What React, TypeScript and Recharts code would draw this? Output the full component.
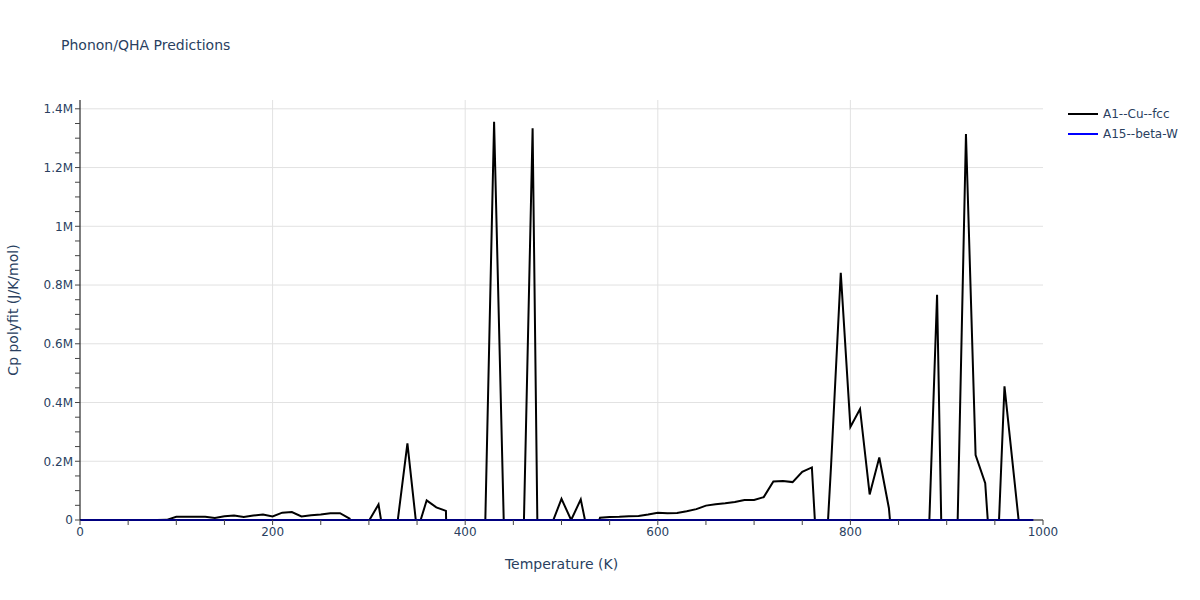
import React from "react";
import { LineChart, Line, XAxis, YAxis, CartesianGrid } from "recharts";

// temperatures (K)
const temps = [
  0, 10, 20, 30, 40, 50, 60, 70, 80, 90,
  100, 110, 120, 130, 140, 150, 160, 170, 180, 190,
  200, 210, 220, 230, 240, 250, 260, 270, 280, 290,
  300, 310, 320, 330, 340, 350, 360, 370, 380, 390,
  400, 410, 420, 430, 440, 450, 460, 470, 480, 490,
  500, 510, 520, 530, 540, 550, 560, 570, 580, 590,
  600, 610, 620, 630, 640, 650, 660, 670, 680, 690,
  700, 710, 720, 730, 740, 750, 760, 770, 780, 790,
  800, 810, 820, 830, 840, 850, 860, 870, 880, 890,
  900, 910, 920, 930, 940, 950, 960, 970, 980, 990,
];

// Cp polyfit, A1--Cu--fcc (J/K/mol); negative values fall below the axis range
const cuFcc = [
  0, 0, 0, 0, 0, 0, 0, 0, 0, 500,
  11000, 11000, 11000, 11000, 7000, 13000, 15000, 10000, 15000, 19000,
  12000, 25000, 27000, 12000, 16000, 19000, 23000, 23000, 5000, -1500000,
  -3000, 53000, -150000, 0, 261000, -40000, 67000, 43000, 31000, -1500000,
  -1200000, -900000, -134000, 1356000, 0, -1500000, -148000, 1334000, -1388000, -13000,
  72000, 0, 70000, -90000, 8000, 10000, 11000, 13000, 14000, 19000,
  25000, 23000, 24000, 30000, 37000, 49000, 54000, 57000, 61000, 68000,
  68000, 78000, 131000, 133000, 129000, 164000, 179000, -400000, 190000, 842000,
  317000, 378000, 87000, 213000, 40000, -330000, -900000, -700000, -192000, 767000,
  -1017000, -214000, 1314000, 221000, 125000, -350000, 455000, 145000, -165000, -400000,
];

// Cp polyfit, A15--beta-W (J/K/mol)
const betaW = [
  0, 0, 0, 0, 0, 0, 0, 0, 0, 0,
  0, 0, 0, 0, 0, 0, 0, 0, 0, 0,
  0, 0, 0, 0, 0, 0, 0, 0, 0, 0,
  0, 0, 0, 0, 0, 0, 0, 0, 0, 0,
  0, 0, 0, 0, 0, 0, 0, 0, 0, 0,
  0, 0, 0, 0, 0, 0, 0, 0, 0, 0,
  0, 0, 0, 0, 0, 0, 0, 0, 0, 0,
  0, 0, 0, 0, 0, 0, 0, 0, 0, 0,
  0, 0, 0, 0, 0, 0, 0, 0, 0, 0,
  0, 0, 0, 0, 0, 0, 0, 0, 0, 0,
];

const xTicks = [
  0, 50, 100, 150, 200, 250, 300, 350, 400, 450, 500,
  550, 600, 650, 700, 750, 800, 850, 900, 950, 1000,
];
const xGrid = [200, 400, 600, 800];
const yTicks = [
  0, 50000, 100000, 150000, 200000, 250000, 300000, 350000, 400000, 450000,
  500000, 550000, 600000, 650000, 700000, 750000, 800000, 850000, 900000,
  950000, 1000000, 1050000, 1100000, 1150000, 1200000, 1250000, 1300000,
  1350000, 1400000,
];
const yGrid = [200000, 400000, 600000, 800000, 1000000, 1200000, 1400000];
const Y_MAX = 1430000;

const series = [
  { key: "cu", name: "A1--Cu--fcc", color: "#000000" },
  { key: "w", name: "A15--beta-W", color: "#0000ff" },
];

const data = temps.map((t, i) => ({ t, cu: cuFcc[i], w: betaW[i] }));

const FONT = '"DejaVu Sans", Verdana, sans-serif';
const TEXT = "#2a3f5f";

function fmtY(v: number) {
  if (v % 200000 !== 0) return "";
  if (v === 0) return "0";
  return `${v / 1000000}M`;
}

function fmtX(v: number) {
  return v % 200 === 0 ? String(v) : "";
}

function LegendBox() {
  return (
    <div
      style={{
        position: "absolute",
        left: 1068,
        top: 104,
        fontFamily: FONT,
        fontSize: 12,
        color: TEXT,
      }}
    >
      {series.map((s) => (
        <div key={s.key} style={{ display: "flex", alignItems: "center", height: 20 }}>
          <div style={{ width: 30, height: 2, background: s.color, marginRight: 5 }} />
          <span>{s.name}</span>
        </div>
      ))}
    </div>
  );
}

export default function App() {
  return (
    <div
      style={{
        position: "absolute",
        left: 0,
        top: 0,
        width: 1200,
        height: 600,
        background: "#fff",
        fontFamily: FONT,
      }}
    >
      <div
        style={{
          position: "absolute",
          left: 61,
          top: 45,
          transform: "translateY(-50%)",
          fontSize: 14,
          color: TEXT,
          whiteSpace: "nowrap",
        }}
      >
        Phonon/QHA Predictions
      </div>
      <div
        style={{
          position: "absolute",
          left: 13,
          top: 310,
          transform: "translate(-50%, -50%) rotate(-90deg)",
          whiteSpace: "nowrap",
          fontSize: 14,
          color: TEXT,
        }}
      >
        Cp polyfit (J/K/mol)
      </div>
      <LegendBox />
      <LineChart
        width={1200}
        height={600}
        data={data}
        margin={{ top: 100, right: 157, bottom: 0, left: 0 }}
      >
        <CartesianGrid
          stroke="#e2e2e2"
          strokeWidth={1}
          verticalCoordinatesGenerator={({ offset }: any) =>
            xGrid.map((v) => offset.left + (v / 1000) * offset.width)
          }
          horizontalCoordinatesGenerator={({ offset }: any) =>
            yGrid.map((v) => offset.top + offset.height * (1 - v / Y_MAX))
          }
        />
        <XAxis
          dataKey="t"
          type="number"
          domain={[0, 1000]}
          ticks={xTicks}
          interval={0}
          tickFormatter={fmtX}
          height={80}
          axisLine={{ stroke: "#000", strokeWidth: 1 }}
          tickLine={{ stroke: "#444" }}
          tickSize={5}
          tick={{ fill: TEXT, fontSize: 12, fontFamily: FONT }}
          label={{
            value: "Temperature (K)",
            position: "insideBottom",
            offset: 31,
            style: { fill: TEXT, fontSize: 14, fontFamily: FONT },
          }}
        />
        <YAxis
          type="number"
          domain={[0, Y_MAX]}
          allowDataOverflow
          ticks={yTicks}
          interval={0}
          tickFormatter={fmtY}
          width={80}
          axisLine={{ stroke: "#000", strokeWidth: 1 }}
          tickLine={{ stroke: "#444" }}
          tickSize={5}
          tick={{ fill: TEXT, fontSize: 12, fontFamily: FONT }}
        />
        {/* unclipped twin axis so the zero line shows on top of the x axis */}
        <YAxis yAxisId="flat" type="number" domain={[0, Y_MAX]} hide />
        <Line
          type="linear"
          dataKey="cu"
          name="A1--Cu--fcc"
          stroke="#000000"
          strokeWidth={2}
          dot={false}
          isAnimationActive={false}
        />
        <Line
          type="linear"
          yAxisId="flat"
          dataKey="w"
          name="A15--beta-W"
          stroke="#0000ff"
          strokeWidth={2}
          dot={false}
          isAnimationActive={false}
        />
      </LineChart>
    </div>
  );
}
